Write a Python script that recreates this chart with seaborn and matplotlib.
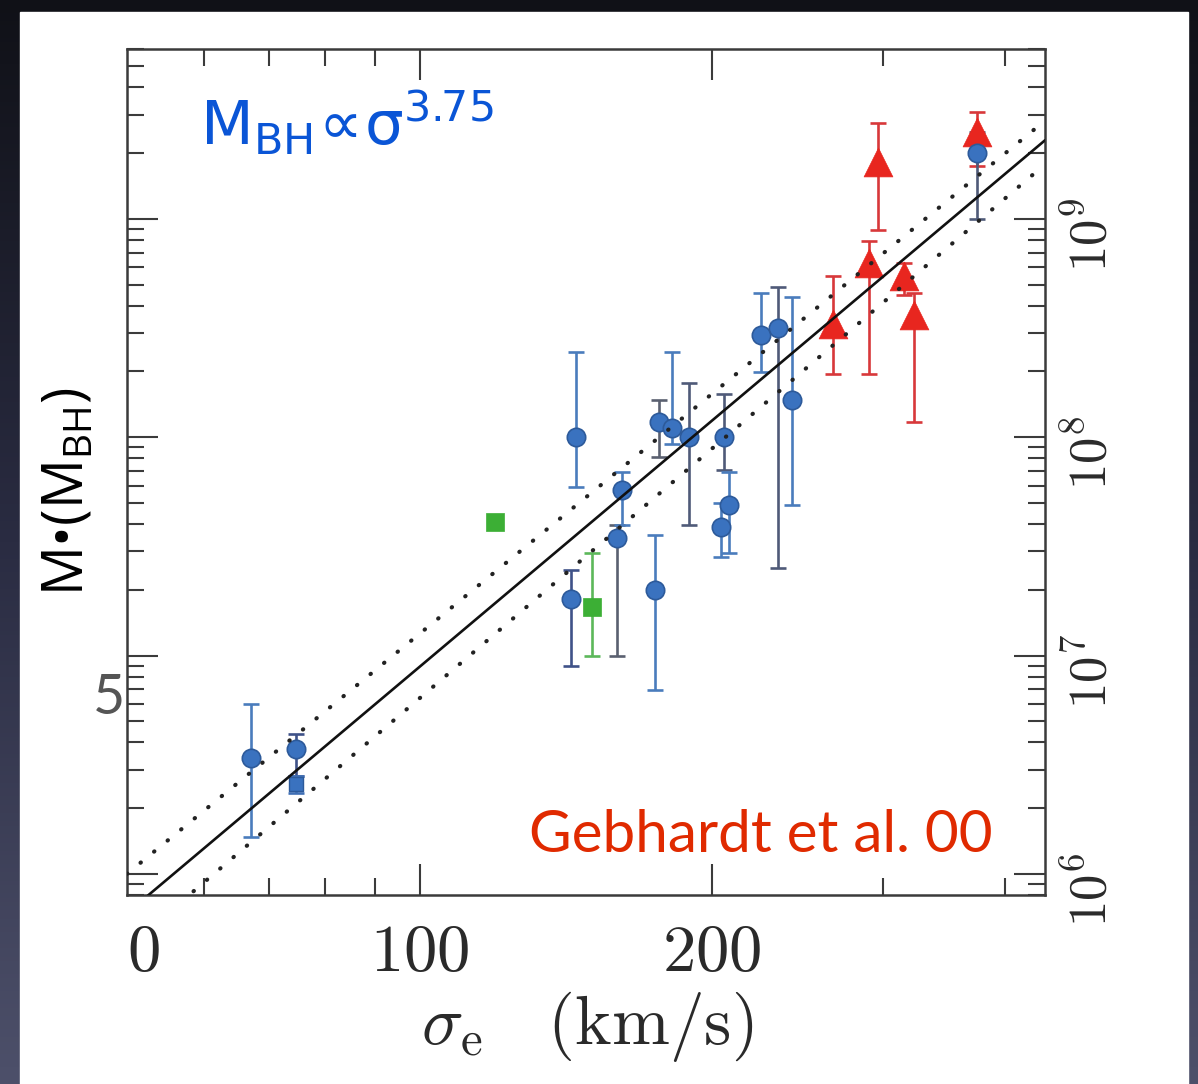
import numpy as np
import pandas as pd
import matplotlib
matplotlib.use("Agg")
import matplotlib.pyplot as plt
import seaborn as sns
from matplotlib.patches import Rectangle
from matplotlib.colors import LinearSegmentedColormap
from matplotlib.ticker import FixedLocator, FixedFormatter, NullFormatter, LogLocator

# ---------------- data (log10 of M_BH in solar masses) ----------------
sigma_blue = [67.0, 74.7, 143.0, 144.7, 159.7, 161.5, 174.7, 176.4, 181.7,
              189.4, 204.2, 205.8, 208.3, 224.5, 233.5, 241.6, 374.1]
logm_blue = [6.53, 6.57, 7.26, 8.00, 7.54, 7.76, 7.30, 8.07, 8.04,
             8.00, 7.59, 8.00, 7.69, 8.47, 8.50, 8.17, 9.30]
logm_blue_hi = [6.78, 6.64, 7.39, 8.39, 7.60, 7.84, 7.55, 8.17, 8.39,
                8.25, 7.70, 8.20, 7.84, 8.66, 8.69, 8.64, 9.40]
logm_blue_lo = [6.17, 6.45, 6.95, 7.77, 7.00, 7.60, 6.84, 7.91, 7.97,
                7.60, 7.45, 7.85, 7.47, 8.30, 7.40, 7.69, 9.00]
blue_bar_colors = ["#4a7cbc", "#3f5288", "#3f5288", "#4a7cbc", "#5a6070", "#4a7cbc",
                   "#4a7cbc", "#5a6070", "#4a7cbc", "#4f5a78", "#4a7cbc", "#4f5a78",
                   "#4a7cbc", "#4a7cbc", "#4f5a78", "#4a7cbc", "#4f5a78"]

sigma_blue_sq = [74.7]
logm_blue_sq = [6.41]
logm_blue_sq_hi = [6.45]
logm_blue_sq_lo = [6.37]

sigma_green = [119.7, 150.5]
logm_green = [7.61, 7.22]
logm_green_hi = [7.63, 7.47]
logm_green_lo = [7.59, 7.00]

sigma_red = [266.1, 290.3, 296.1, 314.7, 322.3, 374.1]
logm_red = [8.52, 8.80, 9.26, 8.74, 8.56, 9.40]
logm_red_hi = [8.74, 8.90, 9.44, 8.80, 8.66, 9.49]
logm_red_lo = [8.29, 8.29, 8.95, 8.65, 8.07, 9.24]

# fit line (M ~ sigma^3.75) and its dotted envelope, read at the axis ends
line_sigma = [50.0, 440.0]
fit_logm = [5.82, 9.36]
upper_logm = [6.00, 9.45]
lower_logm = [5.66, 9.25]

x_major = [100, 200]
x_major_labels = [r"$100$", r"$200$"]
x_minor = [60, 70, 80, 90, 300, 400]
y_major = [1e6, 1e7, 1e8, 1e9]
y_major_labels = [r"$10^{6}$", r"$10^{7}$", r"$10^{8}$", r"$10^{9}$"]

# ---------------- style ----------------
sns.set_theme(style="ticks")
plt.rcParams["font.family"] = ["Lato", "DejaVu Sans"]
plt.rcParams["mathtext.fontset"] = "cm"
plt.rcParams["mathtext.rm"] = "Open Sans"
plt.rcParams["mathtext.it"] = "Open Sans:italic"
plt.rcParams["mathtext.bf"] = "Open Sans:bold"
plt.rcParams["mathtext.sf"] = "Open Sans"

W, H = 1198, 1084
fig = plt.figure(figsize=(W / 100, H / 100), dpi=100)

# slide background (dark at top, lighter slate towards the bottom)
bg = fig.add_axes([0, 0, 1, 1], zorder=-10)
grad = np.linspace(0, 1, 256).reshape(-1, 1)
cmap_bg = LinearSegmentedColormap.from_list("bg", ["#101117", "#2a2c42", "#4d506a"])
bg.imshow(grad, aspect="auto", cmap=cmap_bg, extent=[0, 1, 0, 1], origin="upper")
bg.set_xlim(0, 1); bg.set_ylim(0, 1)
bg.add_patch(Rectangle((20 / W, 0), (1188 - 20) / W, (H - 12) / H, color="white", zorder=2))
bg.axis("off")

ax = fig.add_axes([127 / W, 1 - 895 / H, (1045 - 127) / W, (895 - 49) / H])
ax.set_facecolor("white")
ax.set_xscale("log")
ax.set_yscale("log")


def draw_bars(xs, ys, his, los, colors, cap=5.5):
    for x, y, hi, lo, c in zip(xs, ys, his, los, colors):
        yv = 10 ** y
        ax.errorbar([x], [yv], yerr=[[yv - 10 ** lo], [10 ** hi - yv]], fmt="none",
                    ecolor=c, elinewidth=1.9, capsize=cap, capthick=1.9, zorder=2)


# red triangles
draw_bars(sigma_red, logm_red, logm_red_hi, logm_red_lo, ["#d8383a"] * len(sigma_red))
sns.scatterplot(x=sigma_red, y=[10 ** v for v in logm_red], marker="^", s=430,
                color="#e8261f", edgecolor="#e8261f", linewidth=0.5, ax=ax, zorder=3, legend=False)

# green squares
draw_bars(sigma_green, logm_green, logm_green_hi, logm_green_lo, ["#5cb85a"] * len(sigma_green))
sns.scatterplot(x=sigma_green, y=[10 ** v for v in logm_green], marker="s", s=160,
                color="#3caf35", edgecolor="#3caf35", linewidth=0.5, ax=ax, zorder=3, legend=False)

# blue circles
draw_bars(sigma_blue, logm_blue, logm_blue_hi, logm_blue_lo, blue_bar_colors)
draw_bars(sigma_blue_sq, logm_blue_sq, logm_blue_sq_hi, logm_blue_sq_lo, ["#3f6fb5"])
sns.scatterplot(x=sigma_blue, y=[10 ** v for v in logm_blue], marker="o", s=175,
                color="#3a72bf", edgecolor="#2d5a9a", linewidth=1.2, ax=ax, zorder=3.5, legend=False)
sns.scatterplot(x=sigma_blue_sq, y=[10 ** v for v in logm_blue_sq], marker="s", s=110,
                color="#3a72bf", edgecolor="#2d5a9a", linewidth=1.0, ax=ax, zorder=3.5, legend=False)

# fit lines
ax.plot(line_sigma, [10 ** v for v in fit_logm], color="#111111", lw=1.9, zorder=5)
for arr in (upper_logm, lower_logm):
    ax.plot(line_sigma, [10 ** v for v in arr], color="#222222", lw=3.0,
            linestyle=(0, (0.1, 4.1)), dash_capstyle="round", zorder=5)

ax.set_xlim(50, 440)
ax.set_ylim(8e5, 6e9)

ax.xaxis.set_major_locator(FixedLocator(x_major))
ax.xaxis.set_major_formatter(FixedFormatter(x_major_labels))
ax.xaxis.set_minor_locator(FixedLocator(x_minor))
ax.xaxis.set_minor_formatter(NullFormatter())
ax.yaxis.set_major_locator(FixedLocator(y_major))
ax.yaxis.set_major_formatter(FixedFormatter(y_major_labels))
ax.yaxis.set_minor_locator(LogLocator(base=10, subs=np.arange(2, 10)))
ax.yaxis.set_minor_formatter(NullFormatter())

spine_col = "#3b3b3b"
for s in ax.spines.values():
    s.set_color(spine_col)
    s.set_linewidth(1.8)
    s.set_visible(True)
ax.tick_params(which="both", direction="in", top=True, right=True, left=True, bottom=True,
               color=spine_col, width=1.5)
ax.tick_params(which="major", length=22)
ax.tick_params(which="minor", length=12)
ax.tick_params(axis="x", labelsize=48, pad=19, labelcolor="#2a2a2a")
ax.tick_params(axis="y", labelleft=False, labelright=True, labelsize=38, pad=13,
               labelrotation=90, labelcolor="#2a2a2a")
ax.grid(False)

# "0" remnant of the 50 label
ax.text(52, -19 * 100 / 72 / 846, r"$0$", transform=ax.get_xaxis_transform(),
        ha="center", va="top", fontsize=48, color="#2a2a2a")

# axis label (x)
fig.text(587 / W, 1 - 1027 / H, r"$\sigma_{\rm e}\ \ \ (\mathrm{km/s})$", ha="center", va="center",
         fontsize=50, color="#2a2a2a")

# y label
fig.text(68 / W, 1 - 492 / H, "M\u2022(M$_{\\mathrm{BH}}$)", rotation=90, ha="center", va="center",
         fontsize=40, color="black", family=["Open Sans", "DejaVu Sans"], math_fontfamily="custom")

# "5" overlay
fig.text(125 / W, 1 - 714 / H, "5", ha="right", va="baseline", fontsize=40, color="#555555")

# relation annotation
fig.text(200 / W, 1 - 145 / H, r"$\mathrm{M_{BH}\!\propto\!\sigma^{3.75}}$", ha="left", va="baseline",
         fontsize=44, color="#0a55d6", math_fontfamily="dejavusans")

# reference
fig.text(993 / W, 1 - 852 / H, "Gebhardt et al. 00", ha="right", va="baseline",
         fontsize=42, color="#e02a00")

fig.savefig("out.png", dpi=100)
